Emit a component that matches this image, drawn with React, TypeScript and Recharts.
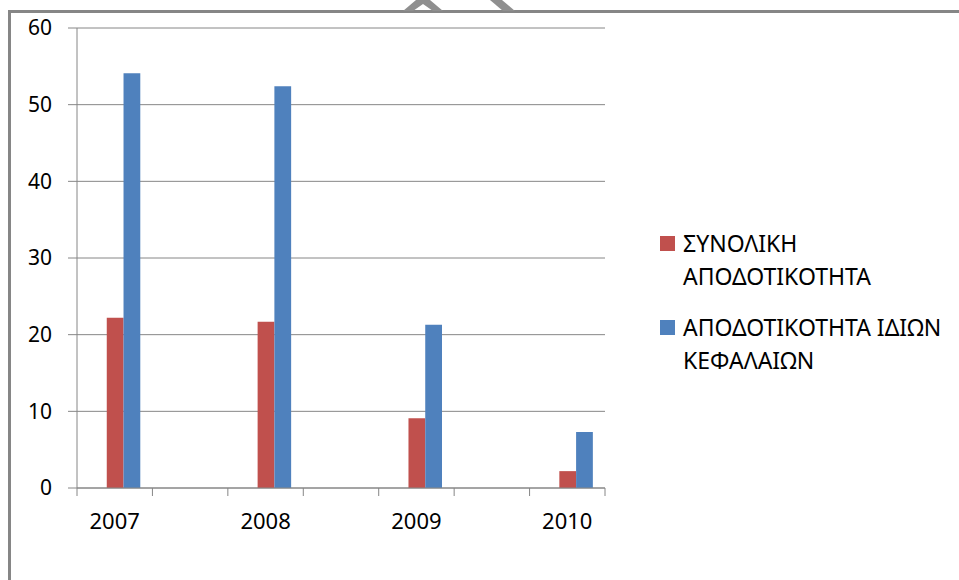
import { BarChart, Bar, XAxis, YAxis, CartesianGrid } from "recharts";

// 7 slots on the category axis, every other one left blank (as in the original sheet)
const years = ["2007", "", "2008", "", "2009", "", "2010"];
const totalReturn = [22.2, null, 21.7, null, 9.1, null, 2.2];
const equityReturn = [54.1, null, 52.4, null, 21.3, null, 7.3];
const yTicks = [0, 10, 20, 30, 40, 50, 60];

const seriesNames = [
    ["ΣΥΝΟΛΙΚΗ", "ΑΠΟΔΟΤΙΚΟΤΗΤΑ"],
    ["ΑΠΟΔΟΤΙΚΟΤΗΤΑ ΙΔΙΩΝ", "ΚΕΦΑΛΑΙΩΝ"],
];
const seriesColors = ["#C0504D", "#4F81BD"];

const data = years.map((year, i) => ({
    year,
    blank: null,
    total: totalReturn[i],
    equity: equityReturn[i],
}));

const W = 959;
const H = 580;
const PLOT_LEFT = 77;
const PLOT_RIGHT = 605;
const PLOT_TOP = 28;
const PLOT_BOTTOM = 488;
const BAND = (PLOT_RIGHT - PLOT_LEFT) / years.length;
const BAR = BAND / 4.5;
const AXIS_COLOR = "#868686";
const FONT = "'Noto Sans', sans-serif";

const XTick = (props: any) => {
    const { x, y, payload, index } = props;
    return (
        <g>
            <line x1={x - BAND / 2} x2={x - BAND / 2} y1={y} y2={y + 8} stroke={AXIS_COLOR} />
            {index === years.length - 1 && (
                <line x1={x + BAND / 2} x2={x + BAND / 2} y1={y} y2={y + 8} stroke={AXIS_COLOR} />
            )}
            {payload.value !== "" && (
                <text x={x} y={y + 41} textAnchor="middle" fontSize={22} fill="#000" fontFamily={FONT}>
                    {payload.value}
                </text>
            )}
        </g>
    );
};

const App = () => {
    return (
        <div style={{ position: "absolute", left: 0, top: 0, width: W, height: H, background: "#fff", overflow: "hidden" }}>
            <div
                style={{
                    position: "absolute",
                    left: 8,
                    top: 10,
                    width: W,
                    height: H,
                    borderLeft: `3px solid ${AXIS_COLOR}`,
                    borderTop: `3px solid ${AXIS_COLOR}`,
                }}
            />
            <svg width={W} height={14} style={{ position: "absolute", left: 0, top: 0 }}>
                <polygon points="403,11 416,0 430,0 443,11 433,11 423,4 413,11" fill="#8f8f8f" />
                <polygon points="490,0 502,0 515,11 503,11" fill="#8f8f8f" />
            </svg>
            <div style={{ position: "absolute", left: 0, top: 0 }}>
                <BarChart
                    width={W}
                    height={H}
                    data={data}
                    barGap={0}
                    margin={{ top: PLOT_TOP, right: W - PLOT_RIGHT, left: 0, bottom: H - PLOT_BOTTOM - 30 }}
                >
                    <CartesianGrid vertical={false} stroke={AXIS_COLOR} />
                    <XAxis
                        dataKey="year"
                        height={30}
                        stroke={AXIS_COLOR}
                        tickLine={false}
                        tickSize={0}
                        tickMargin={0}
                        interval={0}
                        tick={<XTick />}
                    />
                    <YAxis
                        width={PLOT_LEFT}
                        domain={[0, 60]}
                        ticks={yTicks}
                        stroke={AXIS_COLOR}
                        tickSize={9}
                        tickMargin={16}
                        tick={{ fontSize: 21, fill: "#000", fontFamily: FONT }}
                    />
                    <Bar dataKey="blank" barSize={BAR} isAnimationActive={false} legendType="none" />
                    <Bar dataKey="total" barSize={BAR} fill={seriesColors[0]} isAnimationActive={false} />
                    <Bar dataKey="equity" barSize={BAR} fill={seriesColors[1]} isAnimationActive={false} />
                </BarChart>
            </div>
            <div style={{ position: "absolute", left: 660, top: 227, fontFamily: FONT, fontSize: 23, color: "#000" }}>
                {seriesNames.map((lines, i) => (
                    <div key={i} style={{ position: "relative", marginBottom: 18 }}>
                        <div
                            style={{
                                position: "absolute",
                                left: 0,
                                top: 9,
                                width: 15,
                                height: 15,
                                background: seriesColors[i],
                            }}
                        />
                        <div style={{ marginLeft: 23, lineHeight: "33px", whiteSpace: "nowrap" }}>
                            {lines.map((t) => (
                                <div key={t}>{t}</div>
                            ))}
                        </div>
                    </div>
                ))}
            </div>
        </div>
    );
};

export default App;
